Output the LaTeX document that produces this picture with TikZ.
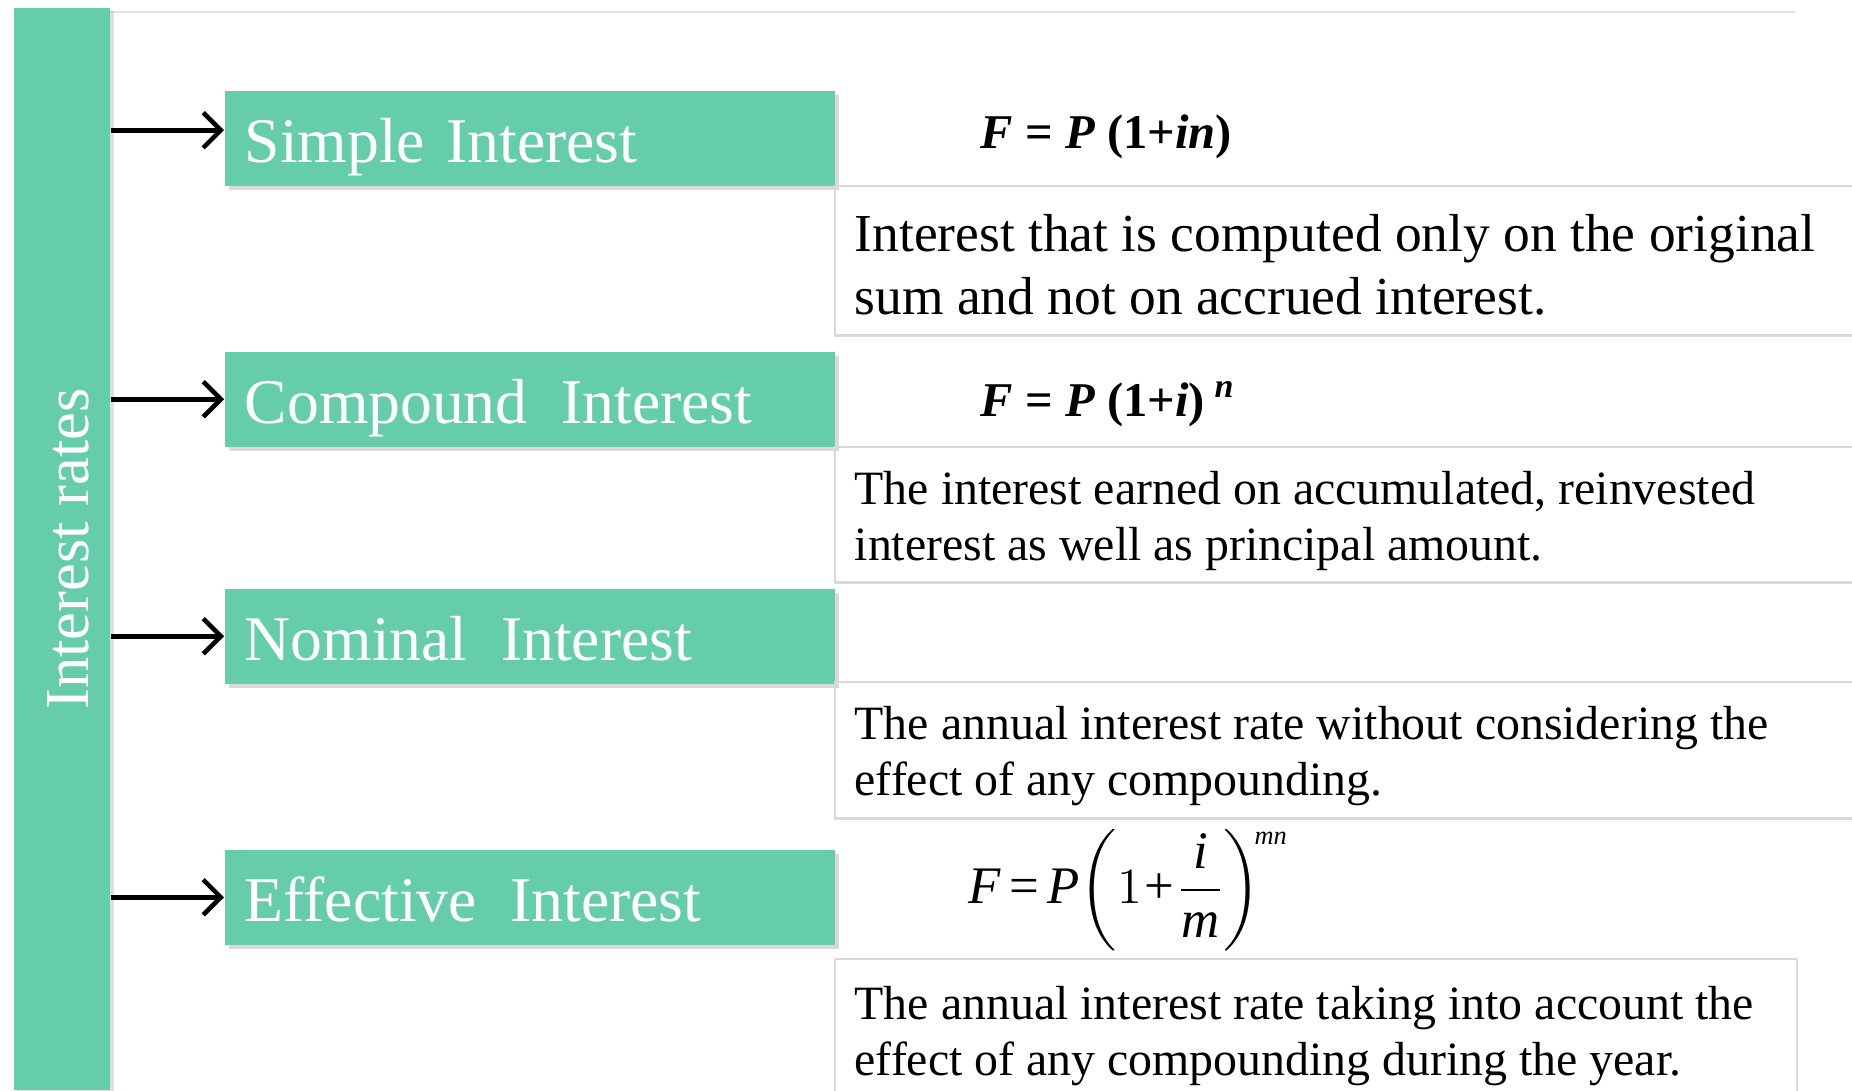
\documentclass[tikz,border=0pt]{standalone}
\usepackage{amsmath}
\usepackage{fontspec}
\setmainfont{Liberation Serif}
\usetikzlibrary{arrows.meta,shadows}
\definecolor{aqua}{HTML}{66CDAA}
\definecolor{rulegray}{HTML}{D9D9D9}

\begin{document}
\begin{tikzpicture}[x=0.01cm, y=-0.01cm,
  link/.style={-{Straight Barb[length=5pt,width=10pt]}, line width=1.3pt},
  bar/.style={fill=aqua, text=white, inner sep=0pt, drop shadow={shadow xshift=1pt, shadow yshift=-1pt, opacity=0.25}},
  head/.style={fill=aqua, anchor=north west, minimum width=6.1cm, minimum height=0.95cm, text width=5.7cm, inner xsep=0.2cm, inner ysep=0pt, text height=0.49cm, text depth=0pt, align=left, text=white, font=\fontsize{18.1}{21}\selectfont, drop shadow={shadow xshift=1.2pt, shadow yshift=-1.2pt, opacity=0.3}},
  descbox/.style={draw=rulegray, line width=0.7pt, anchor=north west, minimum width=11cm},
  desc/.style={anchor=north west, align=left, inner sep=0pt, font=\fontsize{13.6}{15.8}\selectfont},
  formula/.style={anchor=base west, inner sep=0pt, font=\fontsize{13.8}{17}\selectfont\bfseries}]

\useasboundingbox (0,0) rectangle (1852,1090);
\draw[rulegray!70, line width=0.6pt] (110,12) -- (1795,12);

% left bar
\node[bar, rotate=90, minimum width=10.82cm, minimum height=0.96cm, text height=0.52cm, text depth=0pt, font=\fontsize{17.8}{20}\selectfont] (rates) at (62,549) {Interest rates};

% kinds of interest
\node[head] (simple) at (224,90) {Simple Interest};
\node[head] (compound) at (224,351) {Compound\hspace{0.53em}Interest};
\node[head] (nominal) at (224,588) {Nominal\hspace{0.53em}Interest};
\node[head] (effective) at (224,849) {Effective\hspace{0.53em}Interest};

\draw[link] ([yshift=0.08cm]simple.west -| rates.south) -- ([yshift=0.08cm]simple.west);
\foreach \n in {compound,nominal,effective}
  \draw[link] (\n.west -| rates.south) -- (\n.west);

% definitions
\node[descbox, minimum height=1.49cm] (simplebox) at (834,185) {};
\node[descbox, minimum height=1.35cm] (compoundbox) at (834,446) {};
\node[descbox, minimum height=1.36cm] (nominalbox) at (834,681) {};
\node[descbox, minimum width=9.61cm, minimum height=1.5cm] (effectivebox) at (834,958) {};

\node[desc, font=\fontsize{15.2}{17.9}\selectfont] (simpletext) at (854,214) {Interest that is computed only on the original\\sum and not on accrued interest.};
\node[desc] (compoundtext) at (854,471) {The interest earned on accumulated, reinvested\\interest as well as principal amount.};
\node[desc] (nominaltext) at (854,706) {The annual interest rate without considering the\\effect of any compounding.};
\node[desc] (effectivetext) at (854,986) {The annual interest rate taking into account the\\effect of any compounding during the year.};

% formulas
\node[formula] (simplef) at (980,148) {\textit{F} = \textit{P} (1+\textit{in})};
\node[formula] (compoundf) at (980,416) {\textit{F} = \textit{P} (1+\textit{i})\hspace{0.2em}\textsuperscript{\textit{n}}};
\node[anchor=base west, inner sep=0pt, font=\fontsize{15}{18}\selectfont] (effectivef) at (968,903) {$\thickmuskip=3mu \medmuskip=1mu
  \mathit{F} \mathrel{\text{=}} \mathit{P}\!\left(1\mathbin{\text{+}}\dfrac{\mathit{i}}{\mathit{m}}\right)^{\!\scriptscriptstyle\mathit{mn}}$};
\end{tikzpicture}
\end{document}
